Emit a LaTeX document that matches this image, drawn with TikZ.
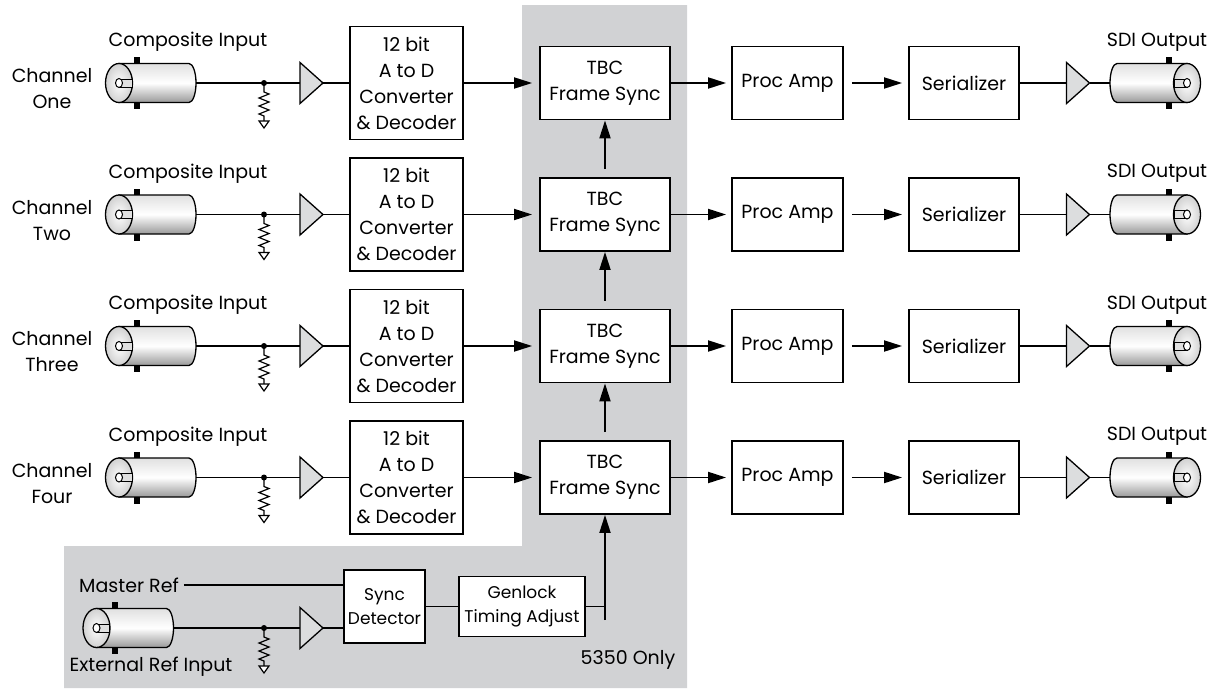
\documentclass[tikz,border=0pt]{standalone}
\usepackage{fontspec}
\setmainfont{Poppins}
\usetikzlibrary{arrows.meta,positioning}
\definecolor{panel}{HTML}{D1D2D4}
\definecolor{ampgray}{HTML}{DCDDDE}

\tikzset{
  bnc/.pic={
    \shade[top color=black!12,bottom color=black!40,middle color=white,draw=black,line width=1.3pt]
      (0,-19.5) -- (70,-19.5) arc[start angle=-90,end angle=90,x radius=7,y radius=19.5] -- (0,19.5) -- cycle;
    \fill (15,-26) rectangle (21,-19.5);
    \fill (15,19.5) rectangle (21,26);
    \shade[inner color=white,outer color=black!18,draw=black,line width=1.3pt] (0,0) ellipse[x radius=13.5,y radius=19.5];
    \draw[fill=black!12,line width=1pt] (0,-4) rectangle (13,4);
    \draw[fill=white,line width=1pt] (0,0) ellipse[x radius=3.5,y radius=4.5];
    \coordinate (-end) at (77,0);
  },
  amp/.pic={
    \draw[fill=ampgray,line width=1.3pt] (-11.5,-20.5) -- (11.5,0) -- (-11.5,20.5) -- cycle;
    \coordinate (-in) at (-11.5,0);
    \coordinate (-out) at (11.5,0);
  },
  res/.pic={
    \fill (0,0) circle[radius=3];
    \draw[line width=1.2pt] (0,0) -- (0,9) -- (5,11) -- (-5,15) -- (5,19) -- (-5,23) -- (5,27) -- (-5,31) -- (0,33) -- (0,38);
    \draw[line width=1.2pt,fill=white] (-5,38) -- (5,38) -- (0,45) -- cycle;
  }
}

\begin{document}
\begin{tikzpicture}[x=1pt,y=-1pt,
    wire/.style={line width=1.8pt},
    arr/.style={wire,-{Triangle[length=18pt,width=11pt]}},
    lbl/.style={font=\fontsize{19}{26}\selectfont,align=center,inner sep=1pt},
    blk/.style={draw,line width=1.8pt,fill=white,align=center,inner sep=0pt,
        font=\fontsize{19}{26}\selectfont},
    adc/.style={blk,minimum width=113pt,minimum height=113pt},
    tbc/.style={blk,minimum width=130pt,minimum height=73pt},
    small/.style={blk,font=\fontsize{17}{24}\selectfont}]
\useasboundingbox (0,0) rectangle (1231,688);

% 5350 panel
\fill[panel] (522,5) -- (687,5) -- (687,688) -- (64,688) -- (64,546) -- (522,546) -- cycle;

% the four channels
\foreach \r/\nm [count=\i] in {83/One,214.5/Two,346/Three,477.5/Four} {
  \node[lbl] (ch\i) at (52,\r+6) {Channel\\\nm};
  \node[lbl] (ci\i) at (188,\r-41) {Composite Input};
  \pic (bi\i) at (119,\r) {bnc};
  \pic (ai\i) at (311.5,\r) {amp};
  \node[adc] (adc\i) at (406.5,\r) {12 bit\\A to D\\Converter\\\& Decoder};
  \node[tbc] (tbc\i) at (605,\r) {TBC\\Frame Sync};
  \node[tbc,minimum width=111pt] (pa\i) at (787.5,\r) {Proc Amp};
  \node[tbc,minimum width=110pt] (ser\i) at (964,\r) {Serializer};
  \pic (ao\i) at (1078,\r) {amp};
  \pic[xscale=-1] (bo\i) at (1187,\r) {bnc};
  \node[lbl] (so\i) at (1157,\r-41) {SDI Output};
  \draw[wire] (bi\i-end) -- (ai\i-in);
  \pic (ri\i) at (264,\r) {res};
  \draw[wire] (ai\i-out) -- (adc\i);
  \draw[arr,shorten >=7pt] (adc\i) -- (tbc\i);
  \draw[arr,shorten >=5pt] (tbc\i) -- (pa\i);
  \draw[arr,shorten <=8pt,shorten >=6pt] (pa\i) -- (ser\i);
  \draw[wire] (ser\i) -- (ao\i-in);
  \draw[wire] (ao\i-out) -- (bo\i-end);
}
\foreach \a/\b in {2/1,3/2,4/3}
  \draw[arr,shorten <=8pt] (tbc\a) -- (tbc\b);

% reference input
\node[lbl] (mref) at (129,585) {Master Ref};
\node[lbl] (eref) at (151,667) {External Ref Input};
\pic (be) at (96.5,628) {bnc};
\pic (ae) at (311.5,628) {amp};
\node[small,minimum width=81pt,minimum height=73pt] (sync) at (384.5,606.5) {Sync\\Detector};
\node[small,minimum width=126pt,minimum height=60pt] (gen) at (522,606.5) {Genlock\\Timing Adjust};
\node[lbl] (only) at (628,660) {5350 Only};
\coordinate (tap) at (605,620);
\draw[wire,shorten <=4pt] (mref.east) -- (mref.east -| sync.west);
\draw[wire] (be-end) -- (ae-in);
\pic (re) at (264,628) {res};
\draw[wire] (ae-out) -- (ae-out -| sync.west);
\draw[wire] (sync) -- (gen);
\draw[wire] (gen.east) -- (gen.east -| tap);
\draw[arr] (tap) -- (tbc4);

\end{tikzpicture}
\end{document}
